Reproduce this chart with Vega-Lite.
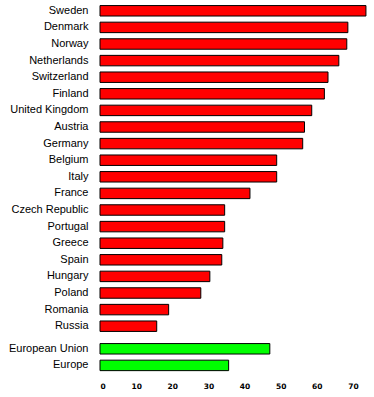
{
  "$schema": "https://vega.github.io/schema/vega-lite/v6.json",
  "padding": {"left": 5, "top": 2.5, "right": 0, "bottom": 0},
  "autosize": {"type": "pad"},
  "background": "white",
  "spacing": 6,
  "config": {
    "view": {"stroke": null},
    "axis": {"grid": false, "domain": false, "ticks": false},
    "font": "Liberation Sans"
  },
  "datasets": {
    "countries": [
      {"country": "Sweden", "value": 73.6},
      {"country": "Denmark", "value": 68.6},
      {"country": "Norway", "value": 68.3},
      {"country": "Netherlands", "value": 66.1},
      {"country": "Switzerland", "value": 63.1},
      {"country": "Finland", "value": 62.1},
      {"country": "United Kingdom", "value": 58.6},
      {"country": "Austria", "value": 56.6},
      {"country": "Germany", "value": 56.1},
      {"country": "Belgium", "value": 48.9},
      {"country": "Italy", "value": 48.9},
      {"country": "France", "value": 41.5},
      {"country": "Czech Republic", "value": 34.5},
      {"country": "Portugal", "value": 34.5},
      {"country": "Greece", "value": 34.0},
      {"country": "Spain", "value": 33.7},
      {"country": "Hungary", "value": 30.4},
      {"country": "Poland", "value": 27.9},
      {"country": "Romania", "value": 19.0},
      {"country": "Russia", "value": 15.7}
    ],
    "aggregates": [
      {"country": "European Union", "value": 47.0},
      {"country": "Europe", "value": 35.6}
    ]
  },
  "vconcat": [
    {
      "data": {"name": "countries"},
      "width": 271,
      "height": 332,
      "mark": {"type": "bar", "color": "#FF0000", "stroke": "black", "strokeWidth": 1},
      "encoding": {
        "y": {
          "field": "country", "type": "nominal", "sort": null,
          "scale": {"paddingInner": 0.37, "paddingOuter": 0.185},
          "axis": {"title": null, "labelFontSize": 11, "labelColor": "black", "labelPadding": 12, "minExtent": 95, "maxExtent": 95, "labelFont": "Liberation Sans"}
        },
        "x": {
          "field": "value", "type": "quantitative",
          "scale": {"domain": [0, 75], "nice": false},
          "axis": null
        }
      }
    },
    {
      "data": {"name": "aggregates"},
      "width": 271,
      "height": 33.2,
      "mark": {"type": "bar", "color": "#00FF00", "stroke": "black", "strokeWidth": 1},
      "encoding": {
        "y": {
          "field": "country", "type": "nominal", "sort": null,
          "scale": {"paddingInner": 0.37, "paddingOuter": 0.185},
          "axis": {"title": null, "labelFontSize": 11, "labelColor": "black", "labelPadding": 12, "minExtent": 95, "maxExtent": 95, "labelFont": "Liberation Sans"}
        },
        "x": {
          "field": "value", "type": "quantitative",
          "scale": {"domain": [0, 75], "nice": false},
          "axis": {"title": null, "values": [0, 10, 20, 30, 40, 50, 60, 70], "labelFontSize": 7.5, "labelFontWeight": "bold", "labelFont": "DejaVu Sans", "labelColor": "black", "labelPadding": 9}
        }
      }
    }
  ]
}
